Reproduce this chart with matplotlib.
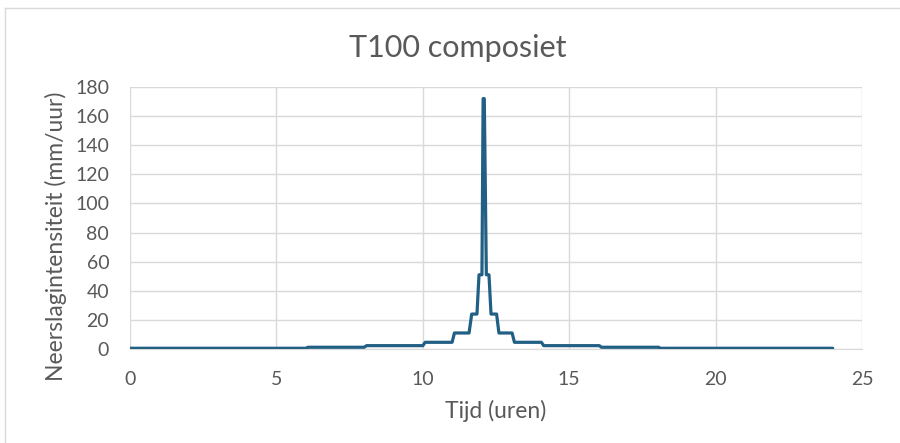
import matplotlib
matplotlib.use("Agg")
import matplotlib.pyplot as plt
from matplotlib.lines import Line2D

# Data: corner points of the composite hyetograph (time in hours, intensity in mm/h)
tijd = [0.0, 6.0, 6.08, 8.0, 8.08, 10.0, 10.08, 11.0, 11.08, 11.58, 11.67,
        11.85, 11.92, 12.02, 12.06, 12.1, 12.17, 12.26, 12.33, 12.52, 12.6,
        13.05, 13.13, 14.05, 14.13, 16.03, 16.1, 18.05, 18.12, 24.0]
intensiteit = [0.5, 0.5, 1.2, 1.2, 2.3, 2.3, 4.6, 4.6, 11.0, 11.0, 24.0,
               24.0, 51.0, 51.0, 172.0, 172.0, 51.0, 51.0, 24.0, 24.0, 11.0,
               11.0, 4.6, 4.6, 2.3, 2.3, 1.2, 1.2, 0.5, 0.5]
x_ticks = [0, 5, 10, 15, 20, 25]
y_ticks = [0, 20, 40, 60, 80, 100, 120, 140, 160, 180]

plt.rcParams['font.family'] = ['Lato', 'DejaVu Sans']

W, H = 900, 443
fig = plt.figure(figsize=(9, 4.43), dpi=100)
fig.patch.set_facecolor('white')
# chart-area border (top and left edges visible in the crop)
fig.lines.append(Line2D([4.5/W, 4.5/W], [0, 1 - 7.5/H], transform=fig.transFigure,
                        color='#d9d9d9', linewidth=1.0))
fig.lines.append(Line2D([4.5/W, 1], [1 - 7.5/H, 1 - 7.5/H], transform=fig.transFigure,
                        color='#d9d9d9', linewidth=1.0))

ax = fig.add_axes([130/W, 1 - 349/H, (862 - 130)/W, (349 - 87)/H])
ax.plot(tijd, intensiteit, color='#215f84', linewidth=2.3, solid_joinstyle='round',
        solid_capstyle='round', zorder=3)

ax.set_xlim(0, 25)
ax.set_ylim(0, 180)
ax.set_xticks(x_ticks)
ax.set_yticks(y_ticks)
ax.grid(True, color='#d9d9d9', linewidth=1.0)
ax.set_axisbelow(True)
for s in ['top', 'right', 'left']:
    ax.spines[s].set_visible(False)
ax.spines['bottom'].set_color('#d9d9d9')
ax.tick_params(axis='both', length=0, labelsize=14, colors='#595959')
ax.tick_params(axis='y', pad=15)
ax.tick_params(axis='x', pad=16)

fig.text(458/W, 1 - 57/H, 'T100 composiet', fontsize=22, color='#595959',
         ha='center', va='baseline')
fig.text(496/W, 1 - 418/H, 'Tijd (uren)', fontsize=16.5, color='#595959',
         ha='center', va='baseline')
fig.text(63/W, 1 - 236/H, 'Neerslagintensiteit (mm/uur)', fontsize=16.5, color='#595959',
         ha='center', va='baseline', rotation=90, rotation_mode='anchor')

fig.savefig('out.png', dpi=100)
